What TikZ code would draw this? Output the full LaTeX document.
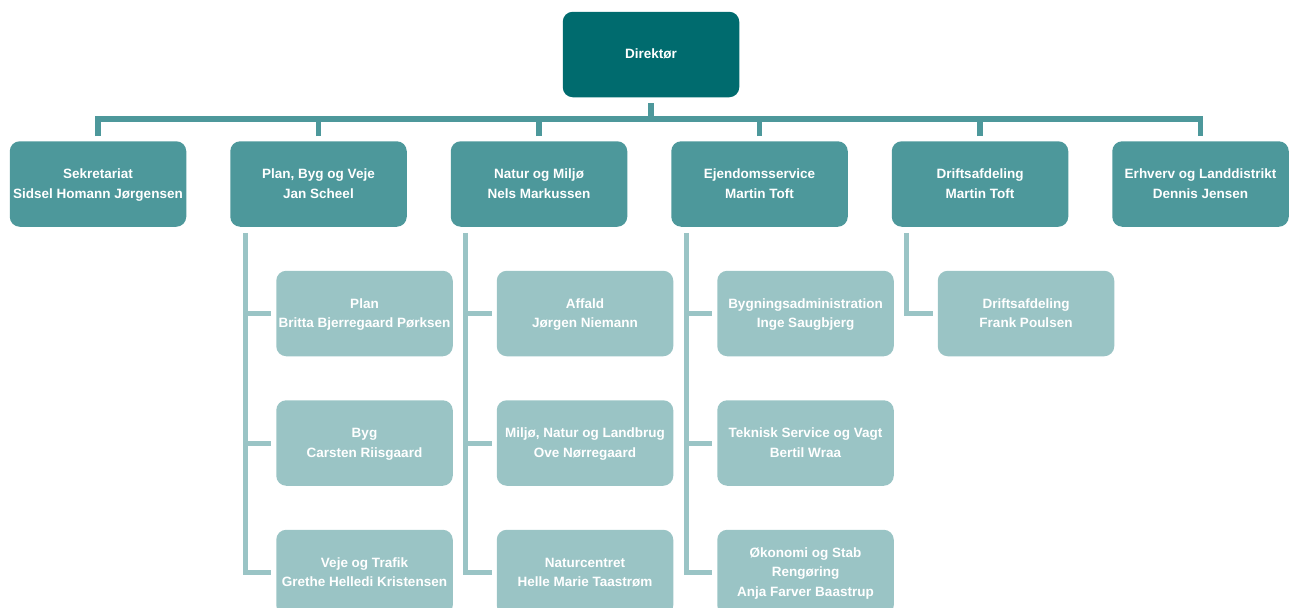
\documentclass[tikz,border=0pt]{standalone}
\usepackage{fontspec}
\setmainfont{Liberation Sans}
\usetikzlibrary{calc}
\definecolor{cdark}{HTML}{006B6E}
\definecolor{cmid}{HTML}{4D989B}
\definecolor{clight}{HTML}{9AC4C5}
\newcommand\boxtxt[1]{\raisebox{-4pt}[0pt][0pt]{\begin{tabular}{@{}c@{}}#1\end{tabular}}}
\tikzset{
  box/.style={rectangle, rounded corners=10pt, minimum width=176.5pt, minimum height=85.5pt,
    inner sep=0pt, text=white, font=\fontsize{13.5}{19.5}\selectfont\bfseries},
  topbox/.style={box, fill=cdark},
  midbox/.style={box, fill=cmid},
  lowbox/.style={box, fill=clight},
  busline/.style={draw=cmid, line width=5.5pt, line join=miter},
  childline/.style={draw=clight, line width=5pt, line join=miter},
}
\begin{document}
\begin{tikzpicture}[x=1pt,y=-1pt]
\useasboundingbox (0,0) rectangle (1294,608);
\begin{scope}
\clip (0,0) rectangle (1294,608);
% top
\node[topbox] (dir) at (651,54.5) {\boxtxt{Direktør}};
% level 2
\node[midbox] (sek) at (98,184) {\boxtxt{Sekretariat\\Sidsel Homann Jørgensen}};
\node[midbox] (pbv) at (318.5,184) {\boxtxt{Plan, Byg og Veje\\Jan Scheel}};
\node[midbox] (nom) at (539,184) {\boxtxt{Natur og Miljø\\Nels Markussen}};
\node[midbox] (ejd) at (759.5,184) {\boxtxt{Ejendomsservice\\Martin Toft}};
\node[midbox] (drf) at (980,184) {\boxtxt{Driftsafdeling\\Martin Toft}};
\node[midbox] (erh) at (1200.5,184) {\boxtxt{Erhverv og Landdistrikt\\Dennis Jensen}};
% level 3
\node[lowbox] (pl1) at (364.5,313.5) {\boxtxt{Plan\\Britta Bjerregaard Pørksen}};
\node[lowbox] (pl2) at (364.5,443) {\boxtxt{Byg\\Carsten Riisgaard}};
\node[lowbox] (pl3) at (364.5,572.5) {\boxtxt{Veje og Trafik\\Grethe Helledi Kristensen}};
\node[lowbox] (nm1) at (585,313.5) {\boxtxt{Affald\\Jørgen Niemann}};
\node[lowbox] (nm2) at (585,443) {\boxtxt{Miljø, Natur og Landbrug\\Ove Nørregaard}};
\node[lowbox] (nm3) at (585,572.5) {\boxtxt{Naturcentret\\Helle Marie Taastrøm}};
\node[lowbox] (ej1) at (805.5,313.5) {\boxtxt{Bygningsadministration\\Inge Saugbjerg}};
\node[lowbox] (ej2) at (805.5,443) {\boxtxt{Teknisk Service og Vagt\\Bertil Wraa}};
\node[lowbox] (ej3) at (805.5,572.5) {\boxtxt{Økonomi og Stab\\Rengøring\\Anja Farver Baastrup}};
\node[lowbox] (dr1) at (1026,313.5) {\boxtxt{Driftsafdeling\\Frank Poulsen}};
% bus
\coordinate (busy) at (0,119);
\draw[busline] ($(dir.south)+(0,6)$) -- (dir.south |- busy);
\draw[busline] ($(sek.north)+(0,-5)$) -- (sek.north |- busy) -- (erh.north |- busy) -- ($(erh.north)+(0,-5)$);
\foreach \n in {pbv,nom,ejd,drf}
  \draw[busline] ($(\n.north)+(0,-5)$) -- (\n.north |- busy);
% children
\foreach \p/\a/\b/\c in {pbv/pl1/pl2/pl3, nom/nm1/nm2/nm3, ejd/ej1/ej2/ej3}{
  \draw[childline] ($(\p.south west)+(15,6)$) coordinate (v) |- ($(\c.west)+(-5,0)$);
  \draw[childline] (v |- \a.west) -- ($(\a.west)+(-5,0)$);
  \draw[childline] (v |- \b.west) -- ($(\b.west)+(-5,0)$);
}
\draw[childline] ($(drf.south west)+(15,6)$) |- ($(dr1.west)+(-5,0)$);
\end{scope}
\end{tikzpicture}
\end{document}
